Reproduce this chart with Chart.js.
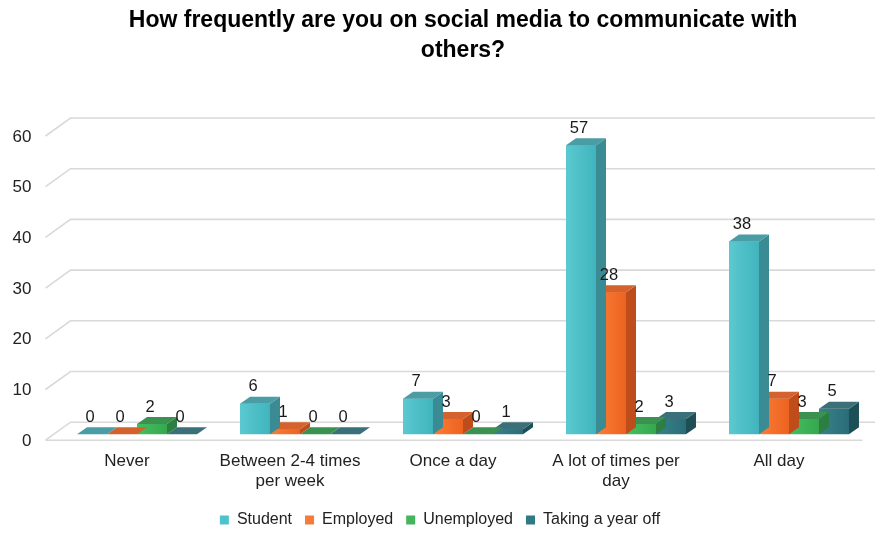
<!DOCTYPE html>
<html>
<head>
<meta charset="utf-8">
<script src="https://cdn.jsdelivr.net/npm/chart.js@4.4.1/dist/chart.umd.min.js"></script>
<style>
  html, body { margin: 0; padding: 0; background: #fff; }
  #wrap { width: 875px; height: 534px; }
</style>
</head>
<body>
<div id="wrap"><canvas id="chart"></canvas></div>
<script>
// ─── data ────────────────────────────────────────────────
var categories = [['Never'], ['Between 2-4 times', 'per week'], ['Once a day'], ['A lot of times per', 'day'], ['All day']];
var seriesNames = ['Student', 'Employed', 'Unemployed', 'Taking a year off'];
var student = [0, 6, 7, 57, 38];
var employed = [0, 1, 3, 28, 7];
var unemployed = [2, 0, 0, 2, 3];
var yearOff = [0, 0, 1, 3, 5];
var yTicks = [0, 10, 20, 30, 40, 50, 60];

// ─── colours: legend swatch, front face (left → right), side, top ───
var palette = [
  { solid: '#4fc3cb', frontL: '#5bc9d0', frontR: '#40b4bd', side: '#3a8b93', top: '#4a9ca5' },
  { solid: '#f47b3a', frontL: '#fb7d36', frontR: '#ec6320', side: '#bf4d1b', top: '#d5622d' },
  { solid: '#44b45e', frontL: '#47bd60', frontR: '#35a84f', side: '#2c7f40', top: '#3a9150' },
  { solid: '#2f7a84', frontL: '#37828c', frontR: '#2a6d77', side: '#1e4f57', top: '#3b6f79' }
];

var FONT = "'Liberation Sans', Arial, sans-serif";
var DEPTH_X = 10, DEPTH_Y = -7;      // bar depth
var WALL_X = 25, WALL_Y = -18;       // floor / back wall depth

// back wall grid + floor edge + value axis labels
var wallPlugin = {
  id: 'wall',
  beforeDatasetsDraw: function(chart) {
    var ctx = chart.ctx, ys = chart.scales.y, xs = chart.scales.x;
    var fx = xs.left - 10;
    ctx.save();
    ctx.strokeStyle = '#d9d9d9';
    ctx.lineWidth = 1.6;
    yTicks.forEach(function(v) {
      var py = ys.getPixelForValue(v);
      ctx.beginPath();
      ctx.moveTo(fx, py + 6);
      ctx.lineTo(fx + WALL_X, py + 6 + WALL_Y);
      ctx.lineTo(chart.width, py + 6 + WALL_Y);
      ctx.stroke();
    });
    var p0 = ys.getPixelForValue(0) + 6;
    ctx.beginPath();
    ctx.moveTo(fx, p0);
    ctx.lineTo(xs.right - 8, p0);
    ctx.stroke();

    ctx.fillStyle = '#222';
    ctx.font = '17px ' + FONT;
    ctx.textAlign = 'right';
    ctx.textBaseline = 'middle';
    yTicks.forEach(function(v) {
      ctx.fillText(String(v), xs.left - 24, ys.getPixelForValue(v) + 7);
    });
    ctx.restore();
  }
};

// shaded front, side and top faces for each bar of a dataset
var bar3dPlugin = {
  id: 'bar3d',
  afterDatasetDraw: function(chart, args) {
    var ctx = chart.ctx, c = palette[args.index];
    ctx.save();
    args.meta.data.forEach(function(bar) {
      var x0 = bar.x - bar.width / 2, x1 = bar.x + bar.width / 2;
      var top = bar.y, base = bar.base;
      if (base - top > 0.5) {
        var g = ctx.createLinearGradient(x0, 0, x1, 0);
        g.addColorStop(0, c.frontL);
        g.addColorStop(1, c.frontR);
        ctx.fillStyle = g;
        ctx.fillRect(x0, top, x1 - x0, base - top);
      }
      // side
      ctx.fillStyle = c.side;
      ctx.beginPath();
      ctx.moveTo(x1, base);
      ctx.lineTo(x1, top);
      ctx.lineTo(x1 + DEPTH_X, top + DEPTH_Y);
      ctx.lineTo(x1 + DEPTH_X, base + DEPTH_Y);
      ctx.closePath();
      ctx.fill();
      // top
      ctx.fillStyle = c.top;
      ctx.beginPath();
      ctx.moveTo(x0, top);
      ctx.lineTo(x1, top);
      ctx.lineTo(x1 + DEPTH_X, top + DEPTH_Y);
      ctx.lineTo(x0 + DEPTH_X, top + DEPTH_Y);
      ctx.closePath();
      ctx.fill();
    });
    ctx.restore();
  },
  afterDatasetsDraw: function(chart) {
    var ctx = chart.ctx;
    ctx.save();
    ctx.fillStyle = '#1a1a1a';
    ctx.font = '16.5px ' + FONT;
    ctx.textAlign = 'center';
    ctx.textBaseline = 'middle';
    chart.data.datasets.forEach(function(ds, i) {
      chart.getDatasetMeta(i).data.forEach(function(bar, j) {
        ctx.fillText(String(ds.data[j]), bar.x - 2, bar.y - 17);
      });
    });
    ctx.restore();
  }
};

var seriesData = [student, employed, unemployed, yearOff];

new Chart(document.getElementById('chart'), {
  type: 'bar',
  data: {
    labels: categories,
    datasets: seriesNames.map(function(name, i) {
      return {
        label: name,
        data: seriesData[i],
        backgroundColor: palette[i].solid,
        borderWidth: 0,
        barPercentage: 1,
        categoryPercentage: 0.736
      };
    })
  },
  options: {
    responsive: true,
    maintainAspectRatio: false,
    animation: false,
    devicePixelRatio: 1,
    layout: { padding: { left: 9.5, right: 4.5, top: 0, bottom: -4 } },
    scales: {
      x: {
        grid: { display: false, drawTicks: false },
        border: { display: false },
        ticks: {
          color: '#222',
          font: { family: FONT, size: 17 },
          padding: 17,
          labelOffset: -10,
          maxRotation: 0,
          autoSkip: false
        },
        afterFit: function(scale) { scale.height -= 10; }
      },
      y: {
        min: 0,
        max: 60,
        grid: { display: false },
        border: { display: false },
        ticks: { display: false, stepSize: 10 },
        afterFit: function(scale) { scale.width = 46; }
      }
    },
    plugins: {
      title: {
        display: true,
        fullSize: false,
        text: ['How frequently are you on social media to communicate with', 'others?'],
        color: '#000',
        font: { family: FONT, size: 23, weight: 'bold', lineHeight: 1.3 },
        padding: { top: 5.5, bottom: 64.7 }
      },
      legend: {
        position: 'bottom',
        labels: {
          color: '#222',
          boxWidth: 9,
          boxHeight: 9,
          padding: 13,
          font: { family: FONT, size: 16 }
        }
      },
      tooltip: { enabled: false }
    }
  },
  plugins: [wallPlugin, bar3dPlugin]
});
</script>
</body>
</html>
